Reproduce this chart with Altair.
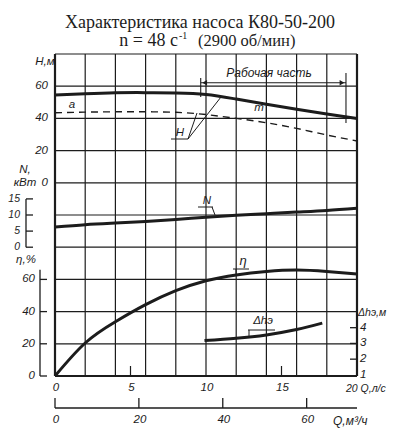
import altair as alt
import pandas as pd

W, HT = 302, 322
INK = "#1c1c1c"
FONT = "Liberation Sans"

# ---- data ----
q_grid = [0, 2, 4, 6, 8, 10, 12, 14, 16, 18, 20]
h_grid = [-120, -100, -80, -60, -40, -20, 0, 20, 40, 60, 80]

q_curve = [0, 2, 4, 6, 8, 10, 12, 14, 16, 18, 20]
head = [54.5, 55.3, 55.9, 56.0, 55.8, 54.9, 52.0, 48.8, 45.7, 42.7, 40.0]
head_a = [43.5, 43.9, 44.1, 44.1, 43.8, 42.4, 40.0, 37.3, 33.8, 29.7, 26.0]
power = [6.3, 7.0, 7.5, 8.0, 8.6, 9.3, 9.9, 10.4, 10.9, 11.4, 12.1]
q_eta = [0, 2, 4, 6, 8, 10, 12, 14, 16, 18, 20]
eta = [0, 20.5, 33.7, 44.3, 53.0, 59.2, 62.8, 64.9, 65.8, 64.9, 63.3]
q_dh = [9.9, 12, 14, 16, 17.7]
npsh = [3.18, 3.33, 3.54, 3.88, 4.29]

h_ticks = [0, 20, 40, 60]
n_ticks = [0, 5, 10, 15]
eta_ticks = [0, 20, 40, 60]
dh_ticks = [1, 2, 3, 4]
q_ls_ticks = [0, 5, 10, 15]
q_ls_inner = [5, 15]
q_m3h_ticks = [0, 20, 40, 60]
work_range = [9.65, 19.27]
m_point = [14]
m_heads = [48.8, 37.3]

xs = alt.Scale(domain=[0, 20], nice=False, zero=False)
ysH = alt.Scale(domain=[-120, 80], nice=False, zero=False)
ysN = alt.Scale(domain=[-40, 60], nice=False, zero=False)
ysE = alt.Scale(domain=[0, 200], nice=False, zero=False)
ysD = alt.Scale(domain=[0.93, 21.39], nice=False, zero=False)


def X(f):
    return alt.X(f"{f}:Q", scale=xs, axis=None)


def Y(f, s):
    return alt.Y(f"{f}:Q", scale=s, axis=None)


def txt(s, x, y, size=11.5, align="center", italic=True, font=FONT, baseline="middle"):
    return alt.Chart(pd.DataFrame({"t": [s]})).mark_text(
        align=align, baseline=baseline, fontSize=size, font=font,
        fontStyle="italic" if italic else "normal", color=INK
    ).encode(x=alt.value(x), y=alt.value(y), text="t:N")


def seg(x1, y1, x2, y2, w=1.0):
    return alt.Chart(pd.DataFrame({"k": [0]})).mark_rule(color=INK, strokeWidth=w).encode(
        x=alt.value(x1), y=alt.value(y1), x2=alt.value(x2), y2=alt.value(y2)
    )


def tick_text(vals, scale, x, align, size=11.5):
    return alt.Chart(pd.DataFrame({"v": vals})).mark_text(
        align=align, baseline="middle", fontSize=size, font=FONT, fontStyle="italic", color=INK
    ).encode(y=Y("v", scale), x=alt.value(x), text=alt.Text("v:Q", format="d"))


layers = []

# grid
layers.append(
    alt.Chart(pd.DataFrame({"q": q_grid})).mark_rule(color=INK).encode(
        x=X("q"), y=alt.value(0), y2=alt.value(HT),
        size=alt.condition("datum.q == 0 || datum.q == 20", alt.value(2.2), alt.value(1.2)),
    )
)
layers.append(
    alt.Chart(pd.DataFrame({"h": h_grid})).mark_rule(color=INK).encode(
        y=Y("h", ysH), x=alt.value(0), x2=alt.value(W),
        size=alt.condition("datum.h == -120", alt.value(2.2), alt.value(1.2)),
    )
)

# curves
df_c = pd.DataFrame({"q": q_curve, "h": head, "a": head_a, "n": power})
layers.append(alt.Chart(df_c).mark_line(color=INK, strokeWidth=3, interpolate="natural").encode(x=X("q"), y=Y("h", ysH)))
layers.append(alt.Chart(df_c).mark_line(color=INK, strokeWidth=1.4, strokeDash=[7, 5], interpolate="natural").encode(x=X("q"), y=Y("a", ysH)))
layers.append(alt.Chart(df_c).mark_line(color=INK, strokeWidth=3, interpolate="natural").encode(x=X("q"), y=Y("n", ysN)))
layers.append(alt.Chart(pd.DataFrame({"q": q_eta, "e": eta})).mark_line(color=INK, strokeWidth=3, interpolate="natural").encode(x=X("q"), y=Y("e", ysE)))
layers.append(alt.Chart(pd.DataFrame({"q": q_dh, "d": npsh})).mark_line(color=INK, strokeWidth=3, interpolate="natural").encode(x=X("q"), y=Y("d", ysD)))

# H axis labels
layers.append(tick_text(h_ticks, ysH, -7, "right"))
layers.append(txt("H,м", -10, 8))

# N bracket axis
layers.append(alt.Chart(pd.DataFrame({"v": [0], "v2": [15]})).mark_rule(color=INK, strokeWidth=1.3).encode(y=Y("v", ysN), y2="v2:Q", x=alt.value(-29)))
layers.append(alt.Chart(pd.DataFrame({"v": n_ticks})).mark_rule(color=INK, strokeWidth=1.3).encode(y=Y("v", ysN), x=alt.value(-29), x2=alt.value(-22)))
layers.append(tick_text(n_ticks, ysN, -35, "right", size=10.5))
layers.append(txt("N,", -30, 116))
layers.append(txt("кВт", -30, 129))

# eta axis
layers.append(alt.Chart(pd.DataFrame({"v": [0], "v2": [66]})).mark_rule(color=INK, strokeWidth=1.3).encode(y=Y("v", ysE), y2="v2:Q", x=alt.value(-15)))
layers.append(alt.Chart(pd.DataFrame({"v": eta_ticks})).mark_rule(color=INK, strokeWidth=1.3).encode(y=Y("v", ysE), x=alt.value(-15), x2=alt.value(-8)))
layers.append(tick_text(eta_ticks, ysE, -20, "right"))
layers.append(txt("η,%", -29, 206))

# delta h axis (right)
layers.append(alt.Chart(pd.DataFrame({"v": dh_ticks[1:]})).mark_rule(color=INK, strokeWidth=1.3).encode(y=Y("v", ysD), x=alt.value(W - 7), x2=alt.value(W)))
layers.append(tick_text(dh_ticks, ysD, W + 3, "left"))
layers.append(txt("Δhэ,м", W + 1, 259, align="left", size=10.5))

# Q l/s axis
layers.append(alt.Chart(pd.DataFrame({"q": q_ls_inner})).mark_rule(color=INK, strokeWidth=1.2).encode(x=X("q"), y=alt.value(HT - 10), y2=alt.value(HT)))
layers.append(alt.Chart(pd.DataFrame({"q": q_ls_ticks})).mark_text(align="center", baseline="middle", dx=1, fontSize=11.5, font=FONT, fontStyle="italic", color=INK).encode(x=X("q"), y=alt.value(HT + 12), text=alt.Text("q:Q", format="d")))
layers.append(txt("20 Q,л/с", W - 11, HT + 13, align="left", size=10.5))

# Q m3/h axis
layers.append(seg(0, HT + 32, W, HT + 32, 1.3))
layers.append(alt.Chart(pd.DataFrame({"m": q_m3h_ticks})).transform_calculate(q="datum.m / 3.6").mark_rule(color=INK, strokeWidth=1.3).encode(x=X("q"), y=alt.value(HT + 22), y2=alt.value(HT + 32)))
layers.append(alt.Chart(pd.DataFrame({"m": q_m3h_ticks})).transform_calculate(q="datum.m / 3.6").mark_text(align="center", baseline="middle", dx=1, fontSize=11.5, font=FONT, fontStyle="italic", color=INK).encode(x=X("q"), y=alt.value(HT + 44), text=alt.Text("m:Q", format="d")))
layers.append(txt("Q,м³/ч", W - 24, HT + 45, align="left", size=12))

# working range
df_w = pd.DataFrame({"q": [work_range[0]], "q2": [work_range[1]]})
layers.append(alt.Chart(df_w).mark_rule(color=INK, strokeWidth=1.1).encode(x=X("q"), x2="q2:Q", y=alt.value(28.7)))
layers.append(alt.Chart(pd.DataFrame({"q": [work_range[0]]})).mark_rule(color=INK, strokeWidth=1.1).encode(x=X("q"), y=alt.value(24), y2=alt.value(43)))
layers.append(alt.Chart(pd.DataFrame({"q": [work_range[1]]})).mark_rule(color=INK, strokeWidth=1.1).encode(x=X("q"), y=alt.value(19), y2=alt.value(69)))
layers.append(alt.Chart(pd.DataFrame({"q": [work_range[0]]})).mark_point(shape="triangle-left", filled=True, color=INK, size=30, opacity=1, xOffset=4).encode(x=X("q"), y=alt.value(28.7)))
layers.append(alt.Chart(pd.DataFrame({"q": [work_range[1]]})).mark_point(shape="triangle-right", filled=True, color=INK, size=30, opacity=1, xOffset=-4).encode(x=X("q"), y=alt.value(28.7)))
layers.append(txt("Рабочая часть", 214, 19, size=12))

# m marker
layers.append(alt.Chart(pd.DataFrame({"q": m_point, "h": [m_heads[0]], "h2": [m_heads[1]]})).mark_rule(color=INK, strokeWidth=1.2).encode(x=X("q"), y=Y("h", ysH), y2="h2:Q"))
layers.append(txt("m", 204, 54, size=11.5))

# curve labels
layers.append(txt("а", 17, 51))
layers.append(txt("H", 125, 79))
layers.append(seg(116, 85, 133, 85))
layers.append(seg(133, 85, 142, 59))
layers.append(seg(133, 85, 166, 43))
layers.append(txt("N", 152, 147))
layers.append(seg(143, 153, 158, 153))
layers.append(seg(157, 153, 160, 161))
layers.append(txt("η", 188, 207, size=13))
layers.append(seg(178, 215, 194, 215))
layers.append(seg(181, 215, 181, 220))
layers.append(txt("Δhэ", 208, 267))
layers.append(seg(193, 276, 220, 276))
layers.append(seg(194, 276, 194, 282))

# title
layers.append(txt("Характеристика насоса К80-50-200", 145, -26.5, size=18, italic=False, font="Liberation Serif", baseline="alphabetic"))
layers.append(txt("n = 48 с", 123, -8.5, size=18, align="right", italic=False, font="Liberation Serif", baseline="alphabetic"))
layers.append(txt("-1", 124, -15, size=10, align="left", italic=False, font="Liberation Serif", baseline="alphabetic"))
layers.append(txt("(2900 об/мин)", 143, -8.5, size=16.5, align="left", italic=False, font="Liberation Serif", baseline="alphabetic"))

chart = alt.layer(*layers).resolve_scale(y="independent").properties(
    width=W, height=HT,
    autosize=alt.AutoSizeParams(type="none"),
    padding={"left": 47, "top": 46, "right": 30, "bottom": 54},
    background="white",
).configure_view(stroke=None)

chart.save("out.html", embed_options={"renderer": "svg", "actions": False})
